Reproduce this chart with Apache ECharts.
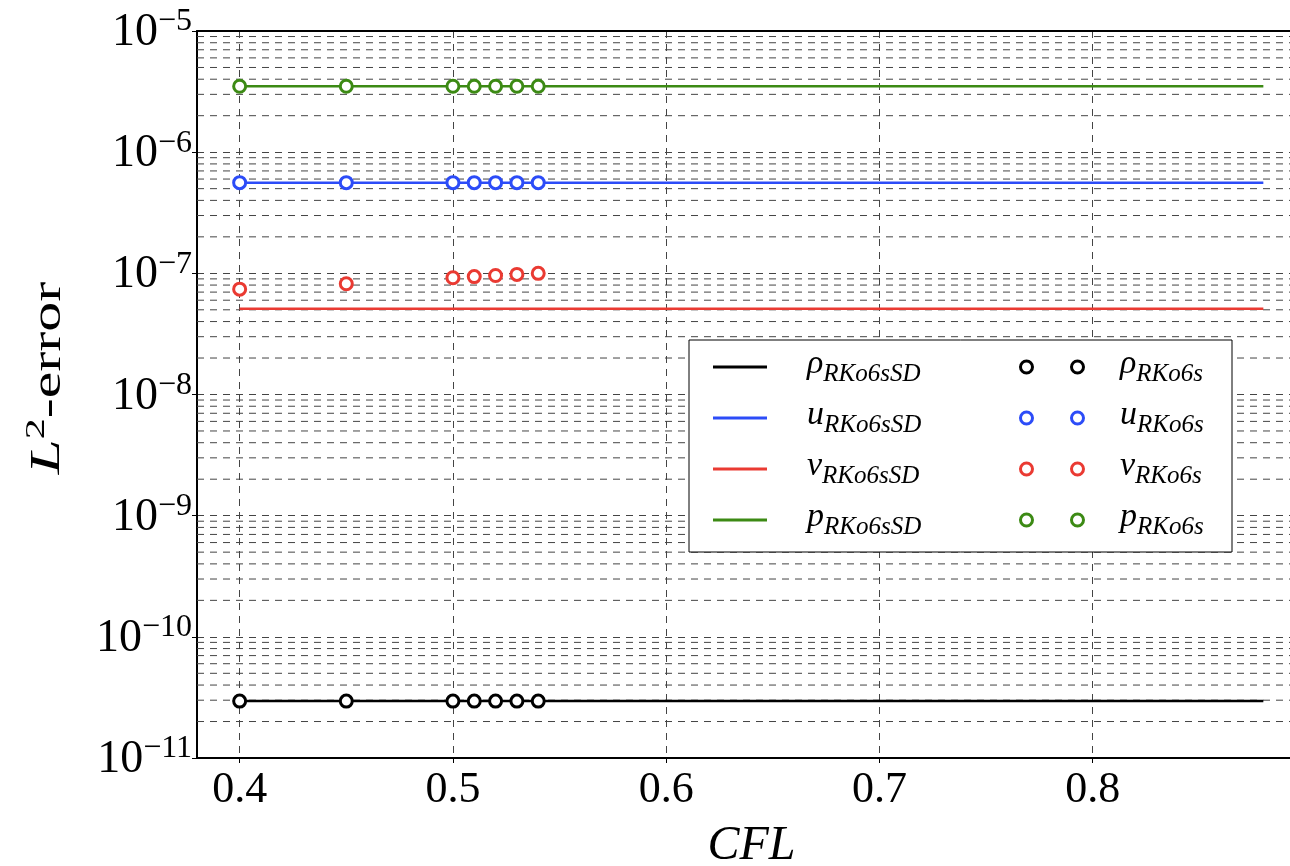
<!DOCTYPE html>
<html>
<head>
<meta charset="utf-8">
<script src="https://cdn.jsdelivr.net/npm/echarts@6/dist/echarts.min.js"></script>
<style>
html, body { margin: 0; padding: 0; background: #fff; }
#chart { width: 1290px; height: 866px; }
</style>
</head>
<body>
<div id="chart"></div>
<script>
// data
var cflSD = [0.4, 0.88];                                   // SD runs: constant level
var cfl = [0.4, 0.45, 0.5, 0.51, 0.52, 0.53, 0.54];        // RKo6s runs
var varNames = ['ρ', 'u', 'v', 'p'];
var colors = ['#000000', '#2c4cf8', '#ea3a32', '#3c8a14'];
var levelSD = [2.95e-11, 5.6e-7, 5.1e-8, 3.5e-6];
var rhoS = [2.95e-11, 2.95e-11, 2.95e-11, 2.95e-11, 2.95e-11, 2.95e-11, 2.95e-11];
var uS = [5.6e-7, 5.6e-7, 5.6e-7, 5.6e-7, 5.6e-7, 5.6e-7, 5.6e-7];
var vS = [7.4e-8, 8.2e-8, 9.2e-8, 9.4e-8, 9.6e-8, 9.8e-8, 1.0e-7];
var pS = [3.5e-6, 3.5e-6, 3.5e-6, 3.5e-6, 3.5e-6, 3.5e-6, 3.5e-6];
var valuesS = [rhoS, uS, vS, pS];
var decades = [-11, -10, -9, -8, -7, -6];

var serif = '"Liberation Serif", "DejaVu Serif", serif';
var gridDash = { color: '#444', width: 1, type: [7, 6] };
var xMin = 0.38, xMax = 0.9;

// minor log gridlines 2..9 x 10^k
var minorVals = [];
decades.forEach(function (k) {
    for (var m = 2; m <= 9; m++) minorVals.push([xMin, m * Math.pow(10, k)]);
});

var lineNames = varNames.map(function (s) { return s + '_RKo6sSD'; });
var dotNames = varNames.map(function (s) { return s + '_RKo6s'; });

function legendFmt(name) {
    var p = name.split('_');
    return '{sp|}{m|' + p[0] + '}{s|' + p[1] + '}';
}
function legendRich(gap) {
    return {
        sp: { width: gap },
        m: { fontFamily: serif, fontStyle: 'italic', fontSize: 34, lineHeight: 40, verticalAlign: 'top', color: '#000' },
        s: { fontFamily: serif, fontStyle: 'italic', fontSize: 25, lineHeight: 25, verticalAlign: 'bottom', color: '#000' }
    };
}
var ringPath = 'path://M0,7.5A7.5,7.5,0,1,1,15,7.5A7.5,7.5,0,1,1,0,7.5Z' +
    'M3,7.5A4.5,4.5,0,1,0,12,7.5A4.5,4.5,0,1,0,3,7.5Z' +
    'M51,7.5A7.5,7.5,0,1,1,66,7.5A7.5,7.5,0,1,1,51,7.5Z' +
    'M54,7.5A4.5,4.5,0,1,0,63,7.5A4.5,4.5,0,1,0,54,7.5Z';

var series = [{
    // minor gridlines, full width of the grid
    type: 'custom', silent: true, z: 1, clip: false,
    data: minorVals,
    renderItem: function (params, api) {
        var p = api.coord([api.value(0), api.value(1)]);
        var cs = params.coordSys;
        return {
            type: 'line', silent: true,
            shape: { x1: cs.x, y1: p[1], x2: cs.x + cs.width, y2: p[1] },
            style: { stroke: gridDash.color, lineWidth: 1, lineDash: gridDash.type }
        };
    }
}];
varNames.forEach(function (s, i) {
    series.push({
        name: lineNames[i], type: 'line', symbol: 'none', z: 2,
        lineStyle: { color: colors[i], width: 2.5 },
        itemStyle: { color: colors[i] },
        data: cflSD.map(function (x) { return [x, levelSD[i]]; })
    });
});
varNames.forEach(function (s, i) {
    series.push({
        name: dotNames[i], type: 'scatter', symbol: 'circle', symbolSize: 12, z: 3,
        itemStyle: { color: '#ffffff', borderColor: colors[i], borderWidth: 3, opacity: 1 },
        data: cfl.map(function (x, j) { return [x, valuesS[i][j]]; })
    });
});

var myChart = echarts.init(document.getElementById('chart'));
var option = {
    animation: false,
    backgroundColor: '#fff',
    grid: { left: 197, top: 31, width: 1109, height: 727, show: false, outerBoundsMode: 'none', containLabel: false },
    xAxis: [{
        type: 'value', min: xMin, max: xMax,
        name: 'CFL', nameLocation: 'middle', nameGap: 64,
        nameTextStyle: { fontFamily: serif, fontStyle: 'italic', fontSize: 48, color: '#000' },
        axisLine: { lineStyle: { color: '#000', width: 2 } },
        axisTick: { inside: false, length: 5, lineStyle: { color: '#000' } },
        axisLabel: {
            showMinLabel: false, showMaxLabel: false, margin: 10,
            fontFamily: serif, fontSize: 44, color: '#000',
            formatter: function (v) { return v.toFixed(1); }
        },
        splitLine: { show: true, lineStyle: gridDash }
    }, {
        // top spine only
        type: 'value', position: 'top', min: xMin, max: xMax,
        axisLine: { show: true, lineStyle: { color: '#000', width: 2 } },
        axisTick: { show: false }, axisLabel: { show: false }, splitLine: { show: false }
    }],
    yAxis: {
        type: 'log', logBase: 10, min: 1e-11, max: 1e-5, interval: 1,
        axisLine: { lineStyle: { color: '#000', width: 2 } },
        axisTick: { inside: false, length: 5, lineStyle: { color: '#000' } },
        axisLabel: {
            margin: 5,
            formatter: function (v) {
                var e = Math.round(Math.log(v) / Math.LN10);
                return '{b|10}{e|−' + (-e) + '}';
            },
            rich: {
                b: { fontFamily: serif, fontSize: 46, lineHeight: 50, verticalAlign: 'bottom', color: '#000' },
                e: { fontFamily: serif, fontSize: 32, lineHeight: 30, verticalAlign: 'top', color: '#000' }
            }
        },
        splitLine: { show: true, lineStyle: gridDash }
    },
    legend: [{
        orient: 'vertical', left: 713, top: 347, padding: 0, itemGap: 11,
        itemWidth: 54, itemHeight: 3, selectedMode: false,
        data: lineNames.map(function (n, i) {
            return { name: n, icon: 'path://M0,0L54,0L54,3L0,3Z', itemStyle: { color: colors[i], borderWidth: 0 } };
        }),
        formatter: legendFmt,
        textStyle: { rich: legendRich(35) }
    }, {
        orient: 'vertical', left: 1019, top: 347, padding: 0, itemGap: 11,
        itemWidth: 66, itemHeight: 15, selectedMode: false,
        data: dotNames.map(function (n, i) {
            return { name: n, icon: ringPath, itemStyle: { color: colors[i], borderWidth: 0 } };
        }),
        formatter: legendFmt,
        textStyle: { rich: legendRich(30) }
    }],
    graphic: [{
        type: 'rect', z: 3, silent: true,
        shape: { x: 689, y: 340, width: 543, height: 212 },
        style: { fill: '#fff', stroke: '#000', lineWidth: 1 }
    }, {
        // y axis title, stretched along its length like the original
        type: 'text', silent: true, x: 46, y: 378, rotation: Math.PI / 2, scaleX: 1.5, scaleY: 1,
        style: {
            text: '{i|L}{sup|2}{r|-error}',
            align: 'center', verticalAlign: 'middle',
            rich: {
                i: { fontFamily: serif, fontStyle: 'italic', fontSize: 42, lineHeight: 46, verticalAlign: 'bottom', fill: '#000' },
                sup: { fontFamily: serif, fontSize: 28, lineHeight: 28, verticalAlign: 'top', fill: '#000' },
                r: { fontFamily: serif, fontSize: 40, lineHeight: 46, verticalAlign: 'bottom', fill: '#000' }
            }
        }
    }],
    series: series
};

if (option && typeof option === "object") {
    myChart.setOption(option, true);
}
</script>
</body>
</html>
